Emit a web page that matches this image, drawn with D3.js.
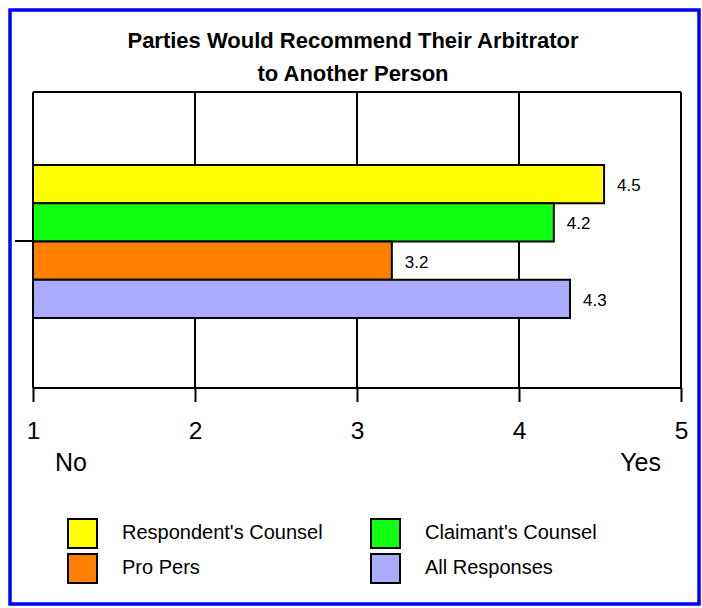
<!DOCTYPE html>
<html><head><meta charset="utf-8">
<script src="https://cdn.jsdelivr.net/npm/d3@7"></script>
<style>body{margin:0;background:#fff}svg{display:block;font-family:"Liberation Sans",Arial,sans-serif}</style>
</head><body>
<script>
const titleLines = ["Parties Would Recommend Their Arbitrator", "to Another Person"];
const series = ["Respondent's Counsel", "Claimant's Counsel", "Pro Pers", "All Responses"];
const values = [4.525, 4.215, 3.215, 4.315];
const colors = ["#ffff00", "#10ff10", "#ff8000", "#aaaaff"];
const ticks = [1, 2, 3, 4, 5];
const endLabels = ["No", "Yes"];
const category = ["All"];

const W = 702, H = 608;
const svg = d3.select("body").append("svg").attr("width", W).attr("height", H);

svg.append("rect").attr("x", 10).attr("y", 10).attr("width", 689).attr("height", 594)
  .attr("fill", "#fff").attr("stroke", "#0000ff").attr("stroke-width", 3.5);

const L = 33, R = 681, T = 92, B = 388;
const x = d3.scaleLinear().domain([1, 5]).range([L, R]);
const y0 = d3.scaleBand().domain(category).range([T, B]);
const y1 = d3.scaleBand().domain(series).range([165, 318]).paddingInner(0);

svg.selectAll(".title").data(titleLines).join("text")
  .attr("x", 353).attr("y", (d, i) => 47.5 + i * 33)
  .attr("text-anchor", "middle").attr("font-weight", "bold").attr("font-size", 22)
  .text(d => d);

// vertical grid
svg.selectAll(".grid").data(ticks).join("line")
  .attr("x1", d => x(d)).attr("x2", d => x(d)).attr("y1", T).attr("y2", B)
  .attr("stroke", "#000").attr("stroke-width", 2);
svg.append("line").attr("x1", L).attr("x2", R).attr("y1", T).attr("y2", T).attr("stroke", "#000").attr("stroke-width", 2);

// bars
svg.selectAll(".bar").data(series).join("rect")
  .attr("x", x(1)).attr("y", d => y1(d))
  .attr("width", (d, i) => x(values[i]) - x(1)).attr("height", y1.bandwidth())
  .attr("fill", (d, i) => colors[i]).attr("stroke", "#000").attr("stroke-width", 2);

svg.selectAll(".val").data(series).join("text")
  .attr("x", (d, i) => x(values[i]) + 13).attr("y", d => y1(d) + y1.bandwidth() / 2 + 7)
  .attr("font-size", 17).text((d, i) => d3.format(".1f")(values[i]));

// x axis
const xa = svg.append("g").attr("transform", `translate(0,${B})`)
  .call(d3.axisBottom(x).tickValues(ticks).tickSize(14).tickFormat(d3.format("d")));
xa.select(".domain").attr("stroke-width", 2).attr("d", `M${L},0H${R}`);
xa.selectAll(".tick line").attr("stroke-width", 2);
xa.selectAll(".tick text").attr("y", 51).attr("dy", 0).attr("font-size", 24.5)
  .attr("font-family", "'Liberation Sans',Arial,sans-serif");

// category tick
svg.append("line").attr("x1", 15).attr("x2", L).attr("y1", y0("All") + y0.bandwidth() / 2 + 1).attr("y2", y0("All") + y0.bandwidth() / 2 + 1)
  .attr("stroke", "#000").attr("stroke-width", 2);

svg.append("text").attr("x", 55).attr("y", 471).attr("font-size", 25).text(endLabels[0]);
svg.append("text").attr("x", 661).attr("y", 471).attr("font-size", 25).attr("text-anchor", "end").text(endLabels[1]);

// legend
const lg = svg.selectAll(".lg").data(series).join("g")
  .attr("transform", (d, i) => `translate(${i % 2 === 0 ? 68 : 371},${519 + Math.floor(i / 2) * 35})`);
lg.append("rect").attr("width", 29).attr("height", 29)
  .attr("fill", (d, i) => colors[i]).attr("stroke", "#000").attr("stroke-width", 2);
lg.append("text").attr("x", 54).attr("y", 20).attr("font-size", 20).text(d => d);
</script>
</body></html>
